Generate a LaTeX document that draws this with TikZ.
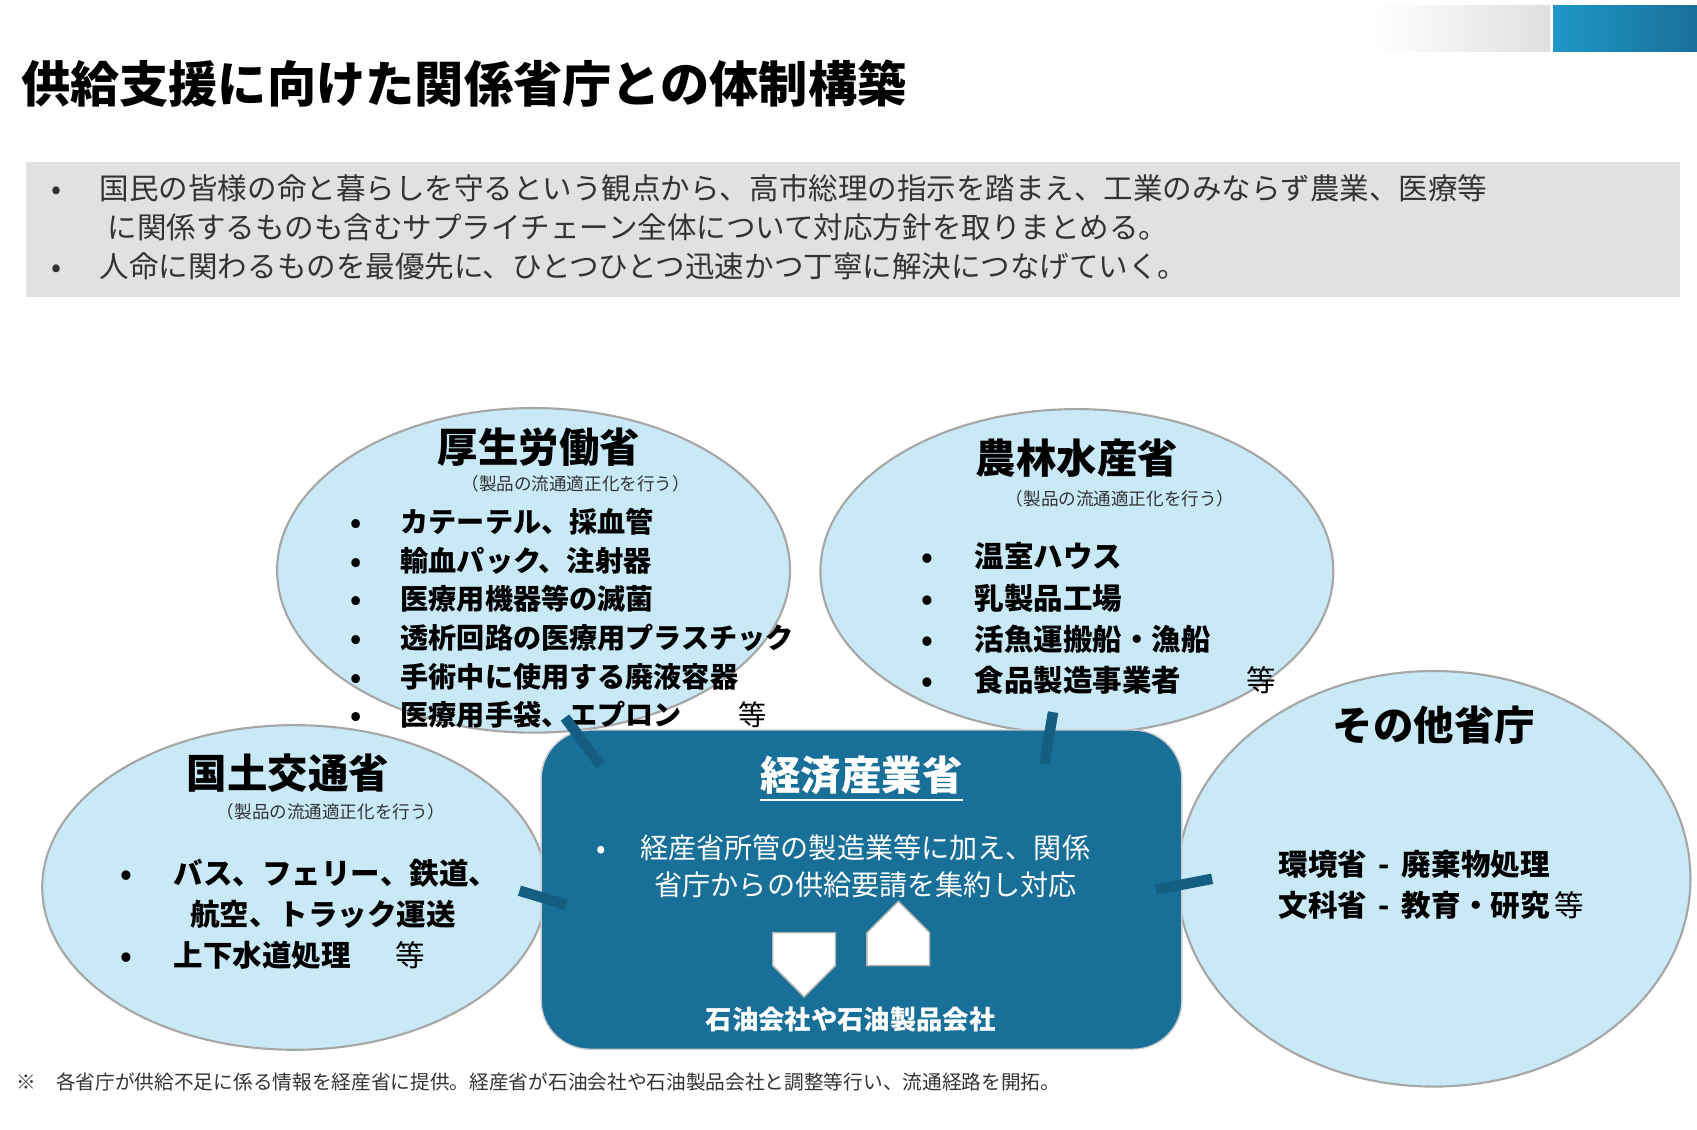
\documentclass[tikz,border=0pt]{standalone}
\usepackage{fontspec}
\setmainfont{Noto Sans CJK JP}
\usetikzlibrary{shapes.geometric,shapes.arrows,positioning}
\definecolor{skyfill}{HTML}{C9E9F7}
\definecolor{meti}{HTML}{186F98}
\definecolor{barblue}{HTML}{1E98C8}
\definecolor{graybox}{HTML}{E1E1E1}
\newcommand{\px}{0.3078pt}
\begin{document}
\begin{tikzpicture}[x=0.1082mm,y=-0.1082mm]
 \tikzset{ministry node/.style={ellipse, draw=gray!70, fill=skyfill, line width=0.6pt, inner sep=0pt}, }
 \tikzset{head node/.style={font=\fontsize{11.5}{13}\selectfont\bfseries}, }
 \tikzset{note node/.style={font=\fontsize{5}{6}\selectfont, text=black!80}, }
 \tikzset{item node/.style={font=\fontsize{8}{11}\selectfont\bfseries, align=left, anchor=north west}, }
 \tikzset{link/.style={line width=3pt, color=meti!85!black}, }
 \tikzset{block arrow/.style={single arrow, fill=white, draw=gray!60, minimum width=58*\px,
   single arrow head extend=0pt, minimum height=46*\px, inner sep=4.5pt}, }
 \useasboundingbox (0,0) rectangle (1568,1044);
 % top bar
 \shade[left color=white, right color=gray!25] (1270,5) rectangle (1432,48);
 \shade[left color=barblue, right color=meti] (1435,5) rectangle (1568,48);
 \node[anchor=west, font=\fontsize{14}{16}\selectfont\bfseries] (title) at (8,77) {供給支援に向けた関係省庁との体制構築};
 % summary
 \fill[graybox] (24,150) rectangle (1552,274);
 \node[anchor=north west, align=left, font=\fontsize{8.4}{11.1}\selectfont, text=black!80] (summary) at (36,150)
  {•\hspace{1.3em}国民の皆様の命と暮らしを守るという観点から、高市総理の指示を踏まえ、工業のみならず農業、医療等\\
   \hspace{1.9em}に関係するものも含むサプライチェーン全体について対応方針を取りまとめる。\\
   •\hspace{1.3em}人命に関わるものを最優先に、ひとつひとつ迅速かつ丁寧に解決につなげていく。};
 % ministries
 \node[ministry node, minimum width=474*\px, minimum height=300*\px] (mhlw) at (493,527) {};
 \node[ministry node, minimum width=474*\px, minimum height=300*\px] (maff) at (995,528) {};
 \node[ministry node, minimum width=466*\px, minimum height=300*\px] (mlit) at (272,820) {};
 \node[ministry node, minimum width=474*\px, minimum height=384*\px] (other) at (1325,812) {};
 \node[head node] at (498,413) {厚生労働省};
 \node[note node] at (532,447) {（製品の流通適正化を行う）};
 \node[item node] at (312,458) {•\hspace{1.4em}カテーテル、採血管\\ •\hspace{1.4em}輸血パック、注射器\\ •\hspace{1.4em}医療用機器等の滅菌\\ •\hspace{1.4em}透析回路の医療用プラスチック\\ •\hspace{1.4em}手術中に使用する廃液容器\\ •\hspace{1.4em}医療用手袋、エプロン\hspace{2em}{\mdseries 等}};
 \node[head node] at (995,423) {農林水産省};
 \node[note node] at (1035,461) {（製品の流通適正化を行う）};
 \node[item node, font=\fontsize{8.4}{11.7}\selectfont\bfseries] at (840,490) {•\hspace{1.4em}温室ハウス\\ •\hspace{1.4em}乳製品工場\\ •\hspace{1.4em}活魚運搬船・漁船\\ •\hspace{1.4em}食品製造事業者\hspace{2.2em}{\mdseries 等}};
 \node[head node] at (266,714) {国土交通省};
 \node[note node] at (306,750) {（製品の流通適正化を行う）};
 \node[item node, font=\fontsize{8.4}{11.7}\selectfont\bfseries] at (100,782) {•\hspace{1.4em}バス、フェリー、鉄道、\\ \hspace{2.35em}航空、トラック運送\\ •\hspace{1.4em}上下水道処理\hspace{1.5em}{\mdseries 等}};
 \node[head node] at (1325,670) {その他省庁};
 \node[item node, font=\fontsize{8.4}{11.7}\selectfont\bfseries] at (1170,774) {環境省 \,-\, 廃棄物処理\\ 文科省 \,-\, 教育・研究\,{\mdseries 等}};
 % METI
 \node[draw=gray!40, fill=meti, rounded corners=45*\px, minimum width=592*\px, minimum height=295*\px] (meti) at (796,822) {};
 \node[text=white, font=\fontsize{11.5}{13}\selectfont\bfseries] (metihead) at (796,720) {\underline{経済産業省}};
 \node[text=white, anchor=north west, align=left, font=\fontsize{8}{10.5}\selectfont] at (540,760) {•\hspace{1.2em}経産省所管の製造業等に加え、関係\\ \hspace{2.05em}省庁からの供給要請を集約し対応};
 \node[block arrow, shape border rotate=270] (down) at (743,877) {};
 \node[block arrow, shape border rotate=90] (up) at (830,877) {};
 \node[text=white, font=\fontsize{7.5}{9}\selectfont\bfseries] (oil) at (786,942) {石油会社や石油製品会社};
 % links
 \draw[link] (522,663) -- (555,707);
 \draw[link] (973,658) -- (965,706);
 \draw[link] (480,823) -- (523,836);
 \draw[link] (1068,822) -- (1120,812);
 \node[anchor=west, font=\fontsize{5.6}{7}\selectfont, text=black!80] (foot) at (4,1000) {※\hspace{1em}各省庁が供給不足に係る情報を経産省に提供。経産省が石油会社や石油製品会社と調整等行い、流通経路を開拓。};
\end{tikzpicture}
\end{document}
